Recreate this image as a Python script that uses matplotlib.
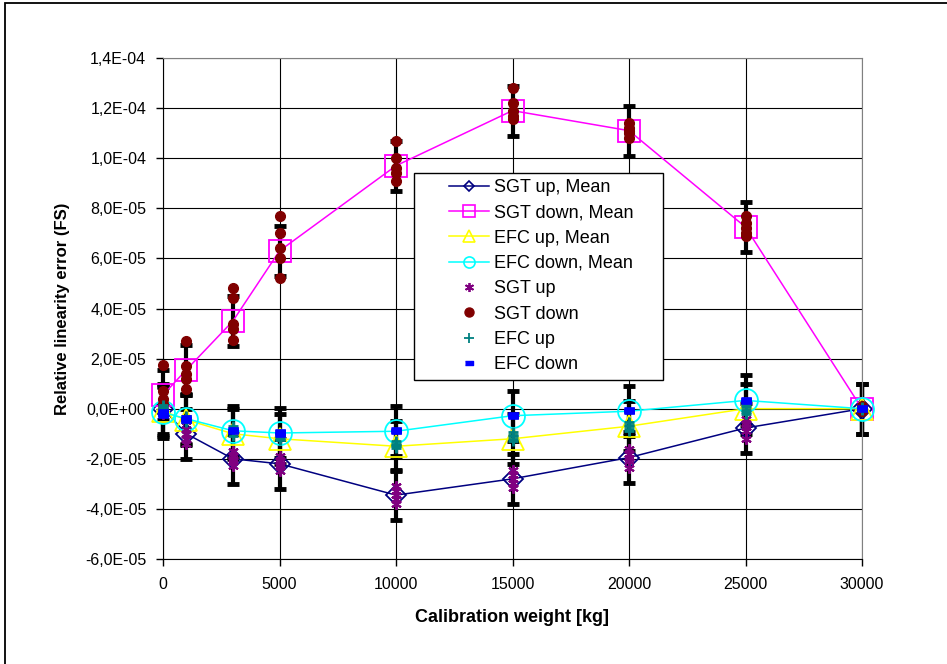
import matplotlib.pyplot as plt
import numpy as np
from matplotlib.lines import Line2D
from matplotlib.patches import Rectangle
from matplotlib.ticker import FuncFormatter, MultipleLocator

plt.rcParams['font.family'] = ['Liberation Sans', 'DejaVu Sans']

# calibration weights [kg]
weights = [0, 1000, 3000, 5000, 10000, 15000, 20000, 25000, 30000]

# mean relative linearity error per weight
sgt_up_mean = [0.0, -1.0e-5, -2.0e-5, -2.2e-5, -3.45e-5, -2.8e-5, -1.95e-5, -7.7e-6, 0.0]
sgt_down_mean = [5.5e-6, 1.55e-5, 3.5e-5, 6.3e-5, 9.7e-5, 1.19e-4, 1.11e-4, 7.25e-5, 0.0]
efc_up_mean = [-1.0e-6, -4.4e-6, -1.0e-5, -1.2e-5, -1.5e-5, -1.2e-5, -7.0e-6, 0.0, 0.0]
efc_down_mean = [-1.5e-6, -4.0e-6, -8.8e-6, -9.7e-6, -9.0e-6, -2.8e-6, -1.0e-6, 3.3e-6, 0.0]

# error bar half width
err_bar = 1.0e-5

# single runs, one row per weight
sgt_up_runs = [
    [1.0e-6, 0.0, -1.0e-6, -2.0e-6, -1.5e-6],
    [-5.0e-6, -8.0e-6, -1.0e-5, -1.2e-5, -1.4e-5],
    [-1.7e-5, -1.9e-5, -2.0e-5, -2.1e-5, -2.3e-5],
    [-1.9e-5, -2.1e-5, -2.2e-5, -2.3e-5, -2.5e-5],
    [-3.1e-5, -3.3e-5, -3.45e-5, -3.6e-5, -3.8e-5],
    [-2.45e-5, -2.65e-5, -2.8e-5, -2.95e-5, -3.15e-5],
    [-1.6e-5, -1.8e-5, -1.95e-5, -2.1e-5, -2.35e-5],
    [-4.0e-6, -6.0e-6, -7.5e-6, -9.0e-6, -1.2e-5],
    [1.0e-6, 0.0, -1.0e-6, 0.5e-6, -0.5e-6],
]
sgt_down_runs = [
    [1.75e-5, 7.0e-6, 4.0e-6, 2.0e-6, -1.0e-6],
    [2.7e-5, 1.7e-5, 1.4e-5, 1.2e-5, 8.0e-6],
    [4.8e-5, 4.4e-5, 3.4e-5, 3.2e-5, 2.75e-5],
    [7.7e-5, 7.0e-5, 6.4e-5, 6.0e-5, 5.2e-5],
    [1.07e-4, 1.0e-4, 9.6e-5, 9.4e-5, 9.1e-5],
    [1.28e-4, 1.22e-4, 1.19e-4, 1.17e-4, 1.155e-4],
    [1.14e-4, 1.12e-4, 1.11e-4, 1.10e-4, 1.08e-4],
    [7.7e-5, 7.4e-5, 7.2e-5, 7.0e-5, 6.9e-5],
    [1.0e-6, 0.0, 0.0, -1.0e-6, 0.0],
]
efc_up_runs = [
    [1.5e-6, 0.5e-6, 0.0, -0.5e-6, -1.0e-6],
    [-3.0e-6, -4.0e-6, -4.5e-6, -5.0e-6, -5.5e-6],
    [-7.0e-6, -8.5e-6, -9.0e-6, -9.5e-6, -1.1e-5],
    [-1.0e-5, -1.1e-5, -1.15e-5, -1.2e-5, -1.25e-5],
    [-1.3e-5, -1.4e-5, -1.45e-5, -1.5e-5, -1.55e-5],
    [-9.5e-6, -1.05e-5, -1.1e-5, -1.2e-5, -1.3e-5],
    [-5.5e-6, -6.5e-6, -7.0e-6, -8.0e-6, -9.0e-6],
    [1.5e-6, 0.5e-6, -0.5e-6, -1.5e-6, -2.0e-6],
    [0.5e-6, 0.0, 0.0, -0.5e-6, 0.0],
]
efc_down_runs = [
    [-1.0e-6, -1.5e-6, -2.0e-6, -2.5e-6, -3.0e-6],
    [-3.5e-6, -4.0e-6, -4.5e-6, -5.0e-6, -4.0e-6],
    [-8.0e-6, -8.5e-6, -9.0e-6, -9.5e-6, -9.0e-6],
    [-9.0e-6, -9.5e-6, -1.0e-5, -1.05e-5, -9.5e-6],
    [-8.5e-6, -9.0e-6, -9.5e-6, -8.0e-6, -9.0e-6],
    [-2.0e-6, -2.5e-6, -3.0e-6, -3.5e-6, -3.0e-6],
    [-0.5e-6, -1.0e-6, -1.5e-6, 0.0, -1.0e-6],
    [4.0e-6, 3.5e-6, 3.0e-6, 2.5e-6, 3.5e-6],
    [0.5e-6, 0.0, -0.5e-6, 0.0, 0.0],
]

labels = ["SGT up, Mean", "SGT down, Mean", "EFC up, Mean", "EFC down, Mean",
          "SGT up", "SGT down", "EFC up", "EFC down"]

dash = [(-1, -0.45), (1, -0.45), (1, 0.45), (-1, 0.45)]

mean_styles = [
    (sgt_up_mean, '#000080', 'D', 10.5),
    (sgt_down_mean, '#FF00FF', 's', 15.5),
    (efc_up_mean, '#FFFF00', '^', 16),
    (efc_down_mean, '#00FFFF', 'o', 16.5),
]
run_styles = [
    (sgt_up_runs, '#800080', (6, 2, 0), 7.5, 1.5),
    (sgt_down_runs, '#800000', 'o', 7, 1),
    (efc_up_runs, '#008080', '+', 7.5, 2),
    (efc_down_runs, '#0000FF', dash, 6.5, 0.5),
]

fig = plt.figure(figsize=(9.47, 6.64), dpi=100)
ax = fig.add_axes([163 / 947, 105 / 664, 699 / 947, 501 / 664])

for mean, color, marker, ms in mean_styles:
    ax.errorbar(weights, mean, yerr=err_bar, fmt='none', ecolor='black',
                elinewidth=3, capsize=4.5, capthick=3.5, zorder=2)
for mean, color, marker, ms in mean_styles:
    ax.plot(weights, mean, color=color, lw=1.1, marker=marker, ms=ms,
            mfc='none', mec=color, mew=1.3, zorder=3)

for runs, color, marker, ms, mew in run_styles:
    runs = np.array(runs)
    xs = np.repeat(weights, runs.shape[1])
    ax.plot(xs, runs.ravel(), ls='none', marker=marker, ms=ms, color=color,
            mec=color, mew=mew, zorder=4)

# markers at the plot edges are not cut off
for artist in ax.lines + ax.collections:
    artist.set_clip_on(False)

ax.set_xlim(0, 30000)
ax.set_ylim(-6e-5, 1.4e-4)
ax.xaxis.set_major_locator(MultipleLocator(5000))
ax.yaxis.set_major_locator(MultipleLocator(2e-5))
ax.yaxis.set_major_formatter(FuncFormatter(lambda v, p: f"{v:.1E}".replace('.', ',')))
ax.tick_params(direction='out', length=5, width=1, labelsize=11.5, color='black')
ax.tick_params(axis='y', pad=7)
ax.tick_params(axis='x', pad=8)
ax.grid(True, color='black', lw=0.8)
ax.set_axisbelow(True)
for side in ['top', 'right']:
    ax.spines[side].set_color('#808080')
for side in ['left', 'bottom']:
    ax.spines[side].set_color('black')

fig.text(512 / 947, 1 - 617 / 664, "Calibration weight [kg]", ha='center', va='center',
         fontsize=13, fontweight='bold')
fig.text(62 / 947, 1 - 309 / 664, "Relative linearity error (FS)", ha='center', va='center',
         rotation=90, fontsize=12, fontweight='bold')

# legend
handles = [
    Line2D([], [], color='#000080', lw=1.1, marker='D', ms=5.5, mfc='none', mew=1.2),
    Line2D([], [], color='#FF00FF', lw=1.1, marker='s', ms=8, mfc='none', mew=1.2),
    Line2D([], [], color='#FFFF00', lw=1.1, marker='^', ms=8, mfc='none', mew=1.2),
    Line2D([], [], color='#00FFFF', lw=1.1, marker='o', ms=8, mfc='none', mew=1.2),
    Line2D([], [], ls='none', color='#800080', marker=(6, 2, 0), ms=6.5, mew=1.3),
    Line2D([], [], ls='none', color='#800000', marker='o', ms=6.5),
    Line2D([], [], ls='none', color='#008080', marker='+', ms=6.5, mew=1.3),
    Line2D([], [], ls='none', color='#0000FF', marker=dash, ms=6),
]
box = Rectangle((414 / 947, 1 - 380 / 664), 249 / 947, 207 / 664, transform=fig.transFigure,
                facecolor='white', edgecolor='black', lw=1, zorder=4.9, clip_on=False)
ax.add_patch(box)
ax.legend(handles, labels, loc='upper left', bbox_to_anchor=(449 / 947, 1 - 179 / 664),
          bbox_transform=fig.transFigure, frameon=False, fontsize=13, handlelength=2.2,
          handletextpad=0.3, labelspacing=0.46, borderpad=0, borderaxespad=0)

# chart frame
fig.add_artist(Rectangle((5 / 947, -0.05), 1.1, 1.05 - 3 / 664, transform=fig.transFigure,
                         fill=False, edgecolor='black', lw=1.3))

fig.savefig("out.png", dpi=100)
